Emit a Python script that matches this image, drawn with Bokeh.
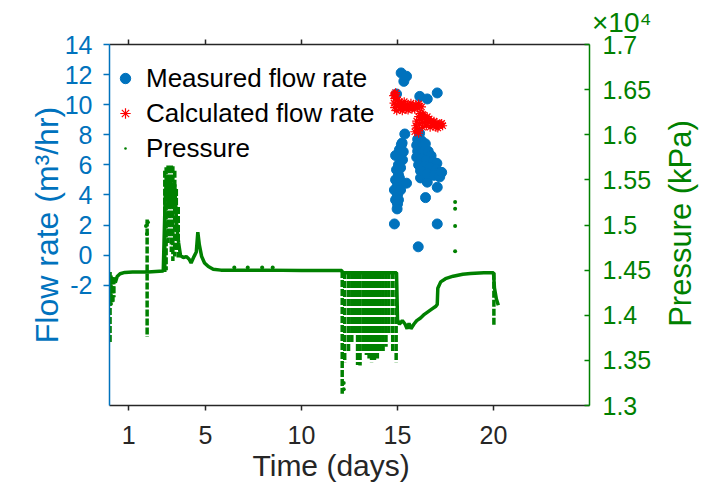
import math
from bokeh.plotting import figure
from bokeh.layouts import row
from bokeh.models import (Range1d, LinearAxis, FixedTicker, Legend, LegendItem, Title, Label,
                          CustomJSTickFormatter)
from bokeh.embed import file_html
from bokeh.resources import INLINE

# ---------------- data ----------------
day_ticks = [1, 5, 10, 15, 20]
flow_ticks = [-2, 0, 2, 4, 6, 8, 10, 12, 14]
pressure_ticks = [13000, 13500, 14000, 14500, 15000, 15500, 16000, 16500, 17000]
pressure_tick_labels = ["1.3", "1.35", "1.4", "1.45", "1.5", "1.55", "1.6", "1.65", "1.7"]

# measured flow rate (m3/hr)
meas_days = [15.19, 15.47, 15.33, 14.95, 16.16, 16.55, 17.07,
             15.38, 15.24, 14.90, 15.10, 15.20, 15.30, 15.26, 15.16, 15.05, 14.95, 15.05,
             14.90, 15.00, 14.84, 15.00, 14.90, 15.10, 15.16, 15.05, 15.00, 15.47,
             14.98, 14.84,
             16.20, 16.55, 17.07, 16.46, 17.07, 16.08,
             16.15, 16.05, 16.25, 16.00, 16.30, 16.45, 16.05, 16.30, 16.60, 16.75, 16.00,
             16.25, 16.50, 16.85, 17.05, 16.10, 16.40, 16.70, 17.00, 17.20, 16.20, 16.55,
             16.90, 17.20, 17.30]
meas_rate = [12.11, 11.89, 11.55, 10.71, 10.55, 10.38, 10.78,
             8.05, 7.45, 6.62, 7.00, 7.33, 6.87, 6.33, 5.80, 6.00, 5.67, 5.33,
             5.00, 4.60, 4.33, 4.00, 3.67, 5.13, 4.33, 3.67, 3.40, 4.78,
             3.07, 2.07,
             5.13, 4.85, 4.51, 3.82, 2.07, 0.55,
             8.10, 7.70, 7.60, 7.30, 7.20, 7.40, 6.90, 6.80, 6.90, 6.60, 6.50,
             6.40, 6.30, 6.20, 6.10, 6.00, 5.90, 5.80, 5.70, 5.50, 5.60, 5.40,
             5.30, 5.20, 5.50]

# calculated flow rate (m3/hr)
calc_days = [14.80, 14.82, 14.85, 14.88, 14.90, 14.93, 14.96, 15.00, 15.05, 15.10, 15.15,
             15.20, 15.30, 15.35, 15.45, 15.50, 15.60, 15.70, 15.75, 15.85, 15.95, 16.05,
             16.15, 16.25, 15.25, 15.55, 15.90, 16.10, 15.40, 15.65, 14.85, 14.95,
             15.90, 15.95, 16.00, 16.05, 16.10, 16.15, 16.20, 16.25, 16.30, 16.35, 16.40,
             16.45, 16.50, 16.55, 16.60, 16.70, 16.75, 16.85, 16.90, 17.00, 17.05, 17.15,
             17.25, 17.35, 16.65, 16.95, 16.10, 16.80, 17.10, 17.30, 16.00, 16.30]
calc_rate = [10.6, 10.1, 9.8, 10.4, 10.8, 10.0, 9.6, 10.3, 9.9, 10.2, 9.7,
             10.1, 9.8, 10.2, 9.7, 10.0, 9.8, 10.1, 9.7, 9.9, 10.0, 9.8,
             9.9, 9.85, 9.6, 9.65, 9.7, 10.05, 9.95, 9.95, 10.7, 10.5,
             8.2, 8.6, 8.9, 8.3, 9.2, 8.7, 9.4, 9.0, 8.5, 9.3, 8.8,
             9.1, 8.6, 9.2, 8.8, 8.5, 8.9, 8.6, 8.9, 8.5, 8.8, 8.6,
             8.7, 8.6, 9.05, 8.7, 8.1, 8.75, 8.45, 8.75, 8.45, 9.35]

# pressure (kPa): main trace
press_days = [0.30, 0.40, 0.55, 0.80, 1.20, 1.90, 2.00, 2.80, 2.90, 3.00, 3.10, 3.20, 3.30,
              3.40, 3.50, 3.60, 3.70, 3.85, 4.00, 4.15, 4.25, 4.40, 4.52, 4.60, 4.68, 4.80,
              4.95, 5.15, 5.40, 5.80, 6.50, 8.00, 10.00, 12.10, 12.15, 14.95,
              15.00, 15.10, 15.25, 15.40, 15.50, 15.60, 15.70, 15.85, 16.00, 16.20, 16.40,
              16.60, 16.80, 17.00, 17.07, 17.10, 17.25, 17.50, 17.90, 18.40, 18.80, 19.50,
              20.00, 20.05, 20.15, 20.25]
press_kpa = [14360, 14430, 14460, 14475, 14480, 14480, 14480, 14490, 15300, 15550, 15200,
             15500, 15250, 15450, 15000, 14800, 14660, 14640, 14650, 14620, 14580, 14650,
             14700, 14920, 14780, 14650, 14580, 14540, 14510, 14500, 14500, 14500, 14495,
             14495, 14470, 14470,
             13950, 13900, 13940, 13900, 13850, 13910, 13850, 13900, 13940, 13970, 14010,
             14040, 14070, 14100, 14120, 14300, 14370, 14405, 14433, 14455, 14463, 14470,
             14472, 14300, 14180, 14110]

# pressure (kPa): dense vertical excursions (day, upper, lower)
burst_days = [0.03, 0.08, 0.13, 0.18, 0.23, 1.96,
              2.88, 2.95, 3.05, 3.12, 3.22, 3.30, 3.40, 3.48, 3.58,
              12.12, 12.25, 12.45, 12.62, 12.75, 12.92, 13.05, 13.22, 13.38, 13.52, 13.65,
              13.80, 13.95, 14.10, 14.25, 14.40, 14.55, 14.75, 14.93, 20.02]
burst_high = [14480, 14440, 14420, 14420, 14420, 15060,
              15600, 15640, 15660, 15650, 15660, 15650, 15600, 15400, 15200,
              14490, 14480, 14480, 14480, 14480, 14480, 14480, 14480, 14480, 14480, 14480,
              14480, 14480, 14480, 14480, 14480, 14480, 14480, 14480, 14470]
burst_low = [13700, 14110, 14130, 14150, 14200, 13760,
             14480, 14500, 14800, 14850, 14700, 14600, 14650, 14700, 14640,
             13130, 13480, 13590, 13700, 13800, 13450, 13444, 13600, 13560, 13520, 13480,
             13500, 13520, 13600, 13590, 13650, 13780, 13590, 13480, 13890]

# pressure (kPa): isolated readings
dot_days = [18.0, 18.0, 18.0, 18.0, 6.5, 7.2, 7.95, 8.5, 1.9, 2.0, 1.95, 12.2, 12.2]
dot_kpa = [15255, 15180, 14990, 14710, 14530, 14530, 14530, 14530, 14990, 15030, 14900,
           13250, 13180]

# ---------------- styling ----------------
BLUE = "#0072BD"
GREEN = "#008000"
RED = "#FF0000"
DARK = "#262626"
FONT = "Liberation Sans"

p = figure(width=660, height=487, output_backend="svg", toolbar_location=None,
           x_range=Range1d(0, 25), y_range=Range1d(-10, 14),
           x_axis_location=None, y_axis_location=None,
           min_border_left=109, min_border_right=71, min_border_top=44,
           min_border_bottom=82)
p.outline_line_color = None
p.grid.grid_line_color = None
p.background_fill_color = "white"
p.border_fill_color = "white"
p.extra_y_ranges = {"pr": Range1d(13000, 17000)}

plain = CustomJSTickFormatter(code="return tick.toString()")

left = LinearAxis(ticker=FixedTicker(ticks=flow_ticks), formatter=plain,
                  axis_line_color=BLUE, axis_line_width=1.5,
                  major_tick_line_color=BLUE, major_tick_line_width=1.5,
                  major_tick_in=0, major_tick_out=6, minor_tick_line_color=None,
                  major_label_text_color=BLUE, major_label_text_font=FONT,
                  major_label_text_font_size="25px", major_label_standoff=11,
                  axis_label="Flow rate (m³/hr)", axis_label_standoff=-3,
                  axis_label_text_color=BLUE, axis_label_text_font=FONT,
                  axis_label_text_font_size="32px", axis_label_text_font_style="normal")
p.add_layout(left, "left")

right = LinearAxis(y_range_name="pr", ticker=FixedTicker(ticks=pressure_ticks),
                   major_label_overrides={t: s for t, s in zip(pressure_ticks, pressure_tick_labels)},
                   axis_line_color=GREEN, axis_line_width=1.5,
                   major_tick_line_color=GREEN, major_tick_line_width=1.5,
                   major_tick_in=5, major_tick_out=0, minor_tick_line_color=None,
                   major_label_text_color=GREEN, major_label_text_font=FONT,
                   major_label_text_font_size="25px", major_label_standoff=13)
p.add_layout(right, "right")

bottom = LinearAxis(ticker=FixedTicker(ticks=day_ticks),
                    axis_line_color=DARK, axis_line_width=1.5,
                    major_tick_line_color=DARK, major_tick_line_width=1.5,
                    major_tick_in=0, major_tick_out=5, minor_tick_line_color=None,
                    major_label_text_color=DARK, major_label_text_font=FONT,
                    major_label_text_font_size="25px", major_label_standoff=15)
p.add_layout(bottom, "below")
p.add_layout(Title(text="Time (days)", align="left", offset=143, standoff=0,
                   text_color=DARK, text_font=FONT, text_font_size="30px",
                   text_font_style="normal"), "below")

top = LinearAxis(ticker=FixedTicker(ticks=day_ticks),
                 formatter=CustomJSTickFormatter(code="return ''"),
                 axis_line_color=DARK, axis_line_width=1.5,
                 major_tick_line_color=DARK, major_tick_line_width=1.5,
                 major_tick_in=0, major_tick_out=5, minor_tick_line_color=None,
                 major_label_text_font_size="1px", major_label_standoff=0)
p.add_layout(top, "above")
p.add_layout(Title(text="×10⁴", align="right", offset=-62, standoff=4,
                   text_color=GREEN, text_font=FONT, text_font_size="28px",
                   text_font_style="normal"), "above")

# ---------------- glyphs ----------------
p.line(press_days, press_kpa, y_range_name="pr", line_color=GREEN, line_width=3.5)
p.segment(x0=burst_days, y0=burst_high, x1=burst_days, y1=burst_low, y_range_name="pr",
          line_color=GREEN, line_width=3.5, line_dash="7 2")
dots = p.scatter(dot_days, dot_kpa, y_range_name="pr", marker="dot", size=16,
                 line_color=GREEN, fill_color=GREEN)

meas = p.scatter(meas_days, meas_rate, marker="circle", size=10,
                 fill_color=BLUE, line_color=BLUE)
calc = p.scatter(calc_days, calc_rate, marker="asterisk", size=9,
                 line_color=RED, line_width=1.2)

legend = Legend(items=[LegendItem(label="Measured flow rate", renderers=[meas]),
                       LegendItem(label="Calculated flow rate", renderers=[calc]),
                       LegendItem(label="Pressure", renderers=[dots])],
                location=(3, 240), orientation="vertical",
                background_fill_color="white", background_fill_alpha=1.0,
                border_line_color=None, margin=0, padding=10, spacing=1,
                glyph_width=26, glyph_height=34, label_height=34, label_standoff=8,
                label_text_font=FONT, label_text_font_size="26px",
                label_text_color="black")
p.add_layout(legend)

# ---------------- right-hand axis title strip ----------------
strip = figure(width=55, height=487, output_backend="svg", toolbar_location=None,
               x_range=Range1d(0, 1), y_range=Range1d(0, 1),
               x_axis_location=None, y_axis_location=None, min_border=0)
strip.outline_line_color = None
strip.grid.grid_line_color = None
strip.add_layout(Label(x=20, y=182, x_units="screen", y_units="screen",
                       text="Pressure (kPa)", angle=math.pi / 2,
                       text_align="center", text_baseline="middle",
                       text_color=GREEN, text_font=FONT, text_font_size="31px"))

layout = row(p, strip, spacing=0)
open("out.html", "w").write(file_html(layout, INLINE))
